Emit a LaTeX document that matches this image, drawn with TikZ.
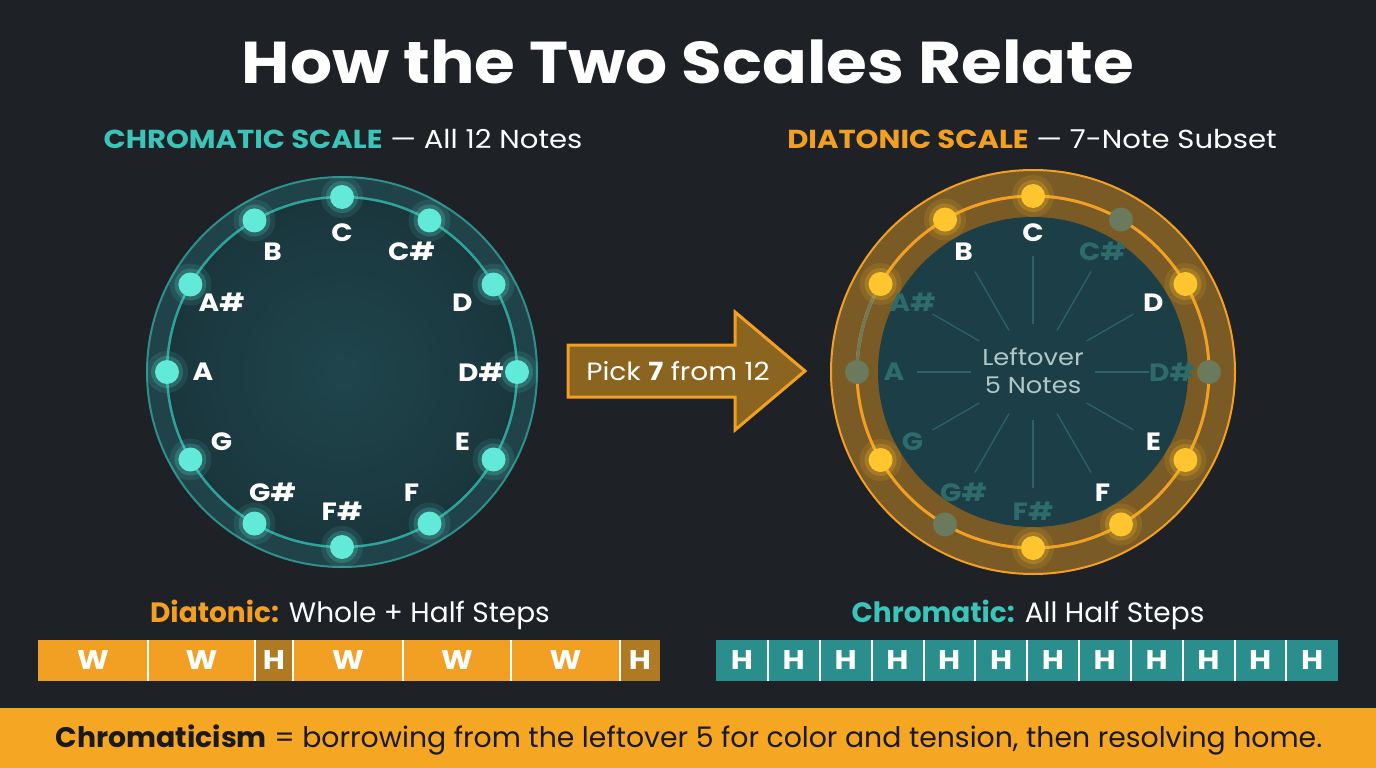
\documentclass[tikz,border=0pt]{standalone}
\usepackage{fontspec}
\setmainfont{Poppins}
\newfontfamily\widefont{Poppins}[FakeStretch=1.12]
\usetikzlibrary{calc}
\definecolor{bg}{HTML}{1E2227}
\definecolor{tealtxt}{HTML}{3CC4B8}
\definecolor{tealdot}{HTML}{62EAD9}
\definecolor{tealedge}{HTML}{2E8F8B}
\definecolor{tealring}{HTML}{2FA39B}
\definecolor{lband}{HTML}{20434A}
\definecolor{ldiskin}{HTML}{1F454C}
\definecolor{ldiskout}{HTML}{1A363D}
\definecolor{orng}{HTML}{F2A024}
\definecolor{orngdark}{HTML}{B07A22}
\definecolor{rband}{HTML}{7B5B25}
\definecolor{rdisk}{HTML}{1C3F47}
\definecolor{ydot}{HTML}{FFC52E}
\definecolor{gdot}{HTML}{6B7A5C}
\definecolor{dimlbl}{HTML}{2E6B6B}
\definecolor{spoke}{HTML}{2B6366}
\definecolor{leftover}{HTML}{AFC7C7}
\definecolor{arrowfill}{HTML}{8B6420}
\definecolor{hbar}{HTML}{2A8F8C}
\definecolor{banner}{HTML}{F5A623}
\definecolor{bannertxt}{HTML}{1A1A1A}
\tikzset{
  notelbl/.style={font=\widefont\fontsize{25}{25}\selectfont\bfseries, inner sep=0pt},
  dotnode/.style={circle, minimum size=24pt, inner sep=0pt},
  wseg/.style={minimum height=41pt, inner sep=0pt, text=white, font=\widefont\fontsize{27}{27}\selectfont\bfseries},
  sep/.style={white, line width=2pt},
}
\begin{document}
\begin{tikzpicture}[x=1pt,y=-1pt]
\fill[bg] (0,0) rectangle (1376,768);
\useasboundingbox (0,0) rectangle (1376,768);

% title
\node[font=\widefont\fontsize{59}{60}\selectfont\bfseries, text=white] (title) at (688,62) {How the Two Scales Relate};

% headers
\node[font=\widefont\fontsize{26}{28}\selectfont, text=white] (lhead) at (343,139) {\textcolor{tealtxt}{\bfseries CHROMATIC SCALE} — All 12 Notes};
\node[font=\widefont\fontsize{26}{28}\selectfont, text=white] (rhead) at (1032,139) {\textcolor{orng}{\bfseries DIATONIC SCALE} — 7-Note Subset};

% ---------- left wheel ----------
\coordinate (L) at (342,372);
\fill[lband] (L) circle (195pt);
\draw[tealedge, line width=2pt] (L) circle (195pt);
\shade[inner color=ldiskin, outer color=ldiskout] (L) circle (175pt);
\draw[tealring, line width=2.5pt] (L) circle (175pt);
\foreach \n [count=\i from 0] in {C,C\#,D,D\#,E,F,F\#,G\#,G,A,A\#,B}{
  \pgfmathsetmacro\ang{90-30*\i}
  \fill[tealdot, opacity=.10] ($(L)+(\ang:175pt)$) circle (21pt);
  \fill[tealdot, opacity=.20] ($(L)+(\ang:175pt)$) circle (16pt);
  \node[dotnode, fill=tealdot] (ld\i) at ($(L)+(\ang:175pt)$) {};
  \node[notelbl, text=white] (ll\i) at ($(L)+(\ang:139pt)$) {\n};
}

% ---------- arrow ----------
\fill[arrowfill] (568,345) -- (735,345) -- (735,312) -- (805,371) -- (735,430) -- (735,397) -- (568,397) -- cycle;
\draw[orng, line width=3pt, line join=miter] (568,345) -- (735,345) -- (735,312) -- (805,371) -- (735,430) -- (735,397) -- (568,397) -- cycle;
\node[font=\widefont\fontsize{25}{25}\selectfont, text=white] (pick) at (678,371) {Pick \textbf{7} from 12};

% ---------- right wheel ----------
\coordinate (R) at (1033,372);
\fill[rband] (R) circle (202pt);
\draw[orng, line width=2pt] (R) circle (202pt);
\fill[rdisk] (R) circle (155pt);
\draw[orng, line width=3pt] (R) circle (176pt);
\draw[gdot, line width=3pt] ($(R)+(150:176pt)$) arc[start angle=150, end angle=180, radius=176pt];
\foreach \i in {0,...,11}{
  \pgfmathsetmacro\ang{90-30*\i}
  \pgfmathsetmacro\rin{ifthenelse(abs(sin(\ang))>0.8,48,62)}
  \draw[spoke, line width=1.3pt] ($(R)+(\ang:\rin pt)$) -- ($(R)+(\ang:116pt)$);
}
\node[font=\widefont\fontsize{23}{28}\selectfont, text=leftover, align=center, inner sep=0pt] (left5) at (1033,371) {Leftover\\5 Notes};
% dots: yellow at 0,2,4,5,6,8,10,11 ; gray at 1,3,7,9
\foreach \i in {0,2,4,5,6,8,10,11}{
  \pgfmathsetmacro\ang{90-30*\i}
  \fill[ydot, opacity=.12] ($(R)+(\ang:176pt)$) circle (21pt);
  \fill[ydot, opacity=.22] ($(R)+(\ang:176pt)$) circle (16pt);
  \node[dotnode, fill=ydot] (rd\i) at ($(R)+(\ang:176pt)$) {};
}
\foreach \i in {1,3,7,9}{
  \pgfmathsetmacro\ang{90-30*\i}
  \node[dotnode, fill=gdot] (rd\i) at ($(R)+(\ang:176pt)$) {};
}
\foreach \n/\i/\c in {C/0/white,C\#/1/dimlbl,D/2/white,D\#/3/dimlbl,E/4/white,F/5/white,F\#/6/dimlbl,G\#/7/dimlbl,G/8/dimlbl,A/9/dimlbl,A\#/10/dimlbl,B/11/white}{
  \pgfmathsetmacro\ang{90-30*\i}
  \node[notelbl, text=\c] (rl\i) at ($(R)+(\ang:139pt)$) {\n};
}

% ---------- bottom left: diatonic bar ----------
\node[font=\fontsize{28}{28}\selectfont, text=white] (dlab) at (350,615) {\textcolor{orng}{\bfseries Diatonic:} Whole + Half Steps};
\foreach \a/\b/\t/\c [count=\k] in {38/148/W/orng,148/255/W/orng,255/293/H/orngdark,293/403/W/orng,403/511/W/orng,511/620/W/orng,620/660/H/orngdark}{
  \node[wseg, fill=\c, minimum width={\b-\a}] (ds\k) at ({(\a+\b)/2},660.5) {\t};
}
\foreach \k in {1,...,6}{
  \draw[sep] (ds\k.north east) -- (ds\k.south east);
}

% ---------- bottom right: chromatic bar ----------
\node[font=\fontsize{28}{28}\selectfont, text=white] (clab) at (1028,615) {\textcolor{tealtxt}{\bfseries Chromatic:} All Half Steps};
\foreach \k in {1,...,12}{
  \node[wseg, fill=hbar, minimum width=51.83pt] (cs\k) at ({716+51.83*(\k-0.5)},660.5) {H};
}
\foreach \k in {1,...,11}{
  \draw[sep] (cs\k.north east) -- (cs\k.south east);
}

% ---------- banner ----------
\fill[banner] (0,708) rectangle (1376,768);
\node[font=\fontsize{28.3}{29}\selectfont, text=bannertxt] (ban) at (689,740) {\textbf{Chromaticism} = borrowing from the leftover 5 for color and tension, then resolving home.};
\end{tikzpicture}
\end{document}
